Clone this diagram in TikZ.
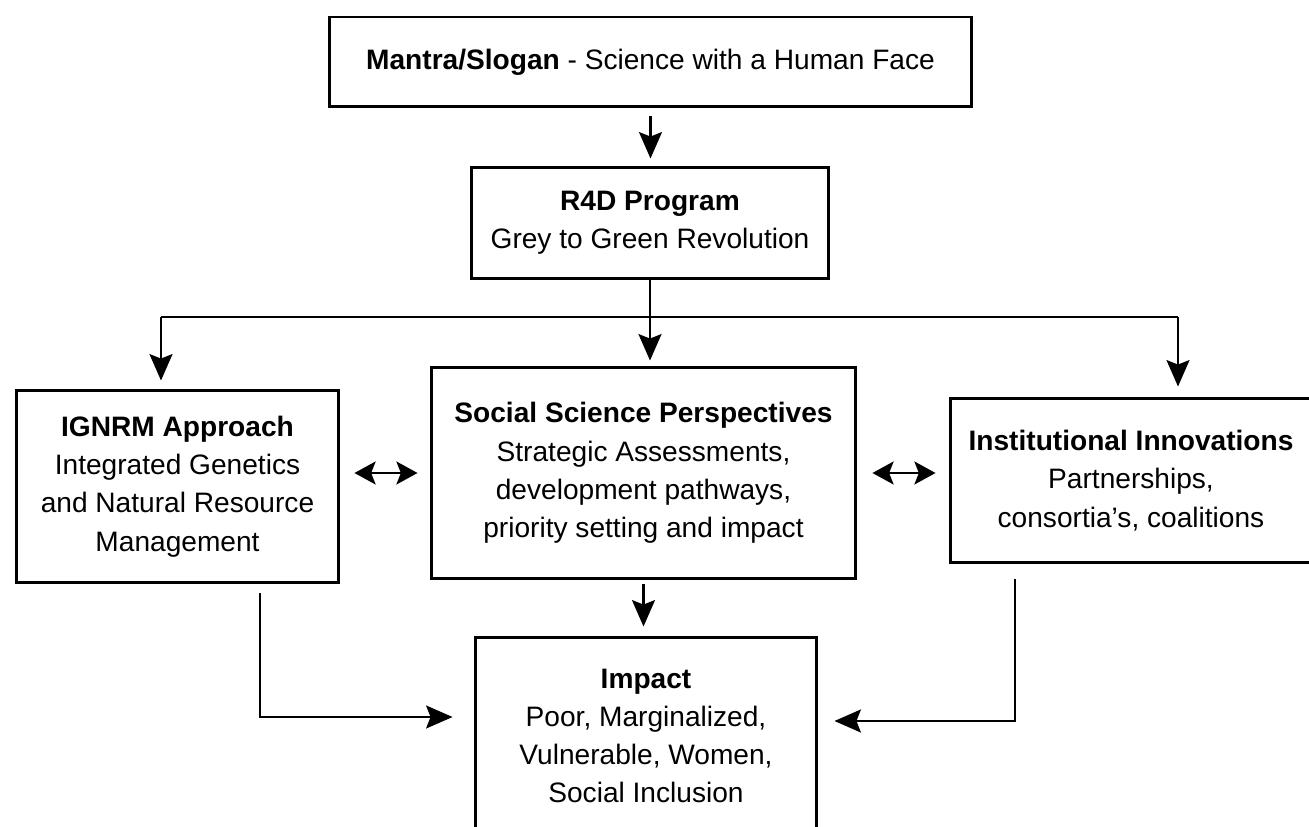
\documentclass[tikz,border=0pt]{standalone}
\usepackage{fontspec}
\setmainfont{Liberation Sans}
\usetikzlibrary{arrows.meta}
\begin{document}
\begin{tikzpicture}[x=0.02cm,y=-0.02cm,
  box/.style={draw,line width=1.7pt,inner sep=0pt,align=center,
    font=\fontsize{16}{21.8}\selectfont},
  conn/.style={line width=1.6pt},
  arr/.style={conn,-{Stealth[length=15pt,width=13pt,inset=2.5pt]}},
  dbl/.style={conn,{Stealth[length=12pt,width=13pt,inset=2.5pt]}-{Stealth[length=12pt,width=13pt,inset=2.5pt]}}]
\useasboundingbox (0,0) rectangle (1309,827);
\node[box,minimum width=12.86cm,minimum height=1.8cm] (top) at (650.5,62)
  {\textbf{Mantra/Slogan} - Science with a Human Face};
\node[box,minimum width=7.16cm,minimum height=2.24cm] (r4d) at (650,223)
  {\textbf{R4D Program}\\Grey to Green Revolution};
\node[box,minimum width=6.46cm,minimum height=3.86cm] (ign) at (177.5,486.5)
  {\textbf{IGNRM Approach}\\Integrated Genetics\\and Natural Resource\\Management};
\node[box,minimum width=8.5cm,minimum height=4.24cm] (soc) at (643.5,473)
  {\textbf{Social Science Perspectives}\\Strategic Assessments,\\development pathways,\\priority setting and impact};
\node[box,minimum width=7.24cm,minimum height=3.3cm] (inst) at (1131,480.5)
  {\textbf{Institutional Innovations}\\Partnerships,\\consortia's, coalitions};
\node[box,minimum width=6.84cm,minimum height=3.96cm] (impact) at (646,736)
  {\textbf{Impact}\\Poor, Marginalized,\\Vulnerable, Women,\\Social Inclusion};
% top to r4d
\draw[arr,shorten <=0.16cm,shorten >=0.14cm] (top.south) -- (top.south |- r4d.north);
% branching
\coordinate (bl) at (161,317);
\coordinate (brr) at (1178,317);
\draw[conn] (bl) -- (brr);
\draw[arr,shorten >=0.1cm] (r4d.south) -- (r4d.south |- soc.north);
\draw[arr,shorten >=0.16cm] (bl) -- (bl |- ign.north);
\draw[arr,shorten >=0.2cm] (brr) -- (brr |- inst.north);
% double arrows
\draw[dbl,shorten <=0.28cm,shorten >=0.24cm] (ign.east |- soc.west) -- (soc.west);
\draw[dbl,shorten <=0.3cm,shorten >=0.26cm] (soc.east) -- (soc.east -| inst.west);
% soc to impact
\draw[arr,shorten <=0.08cm,shorten >=0.18cm] (soc.south) -- (soc.south |- impact.north);
% side connectors
\coordinate (lc) at (260,717);
\coordinate (rc) at (1015,721);
\draw[arr,shorten <=0.18cm,shorten >=0.42cm] (ign.south -| lc) -- (lc) -- (lc -| impact.west);
\draw[arr,shorten <=0.3cm,shorten >=0.32cm] (inst.south -| rc) -- (rc) -- (rc -| impact.east);
\end{tikzpicture}
\end{document}
